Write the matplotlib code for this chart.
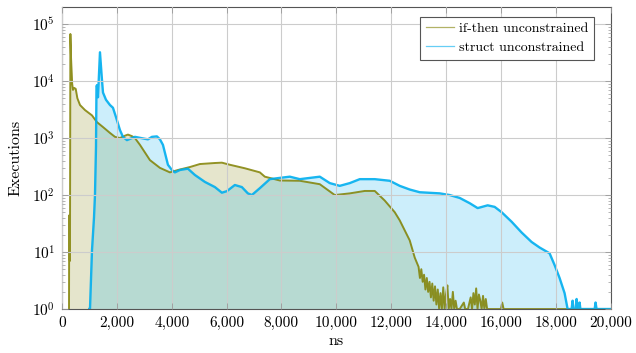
import numpy as np
import matplotlib
matplotlib.use("Agg")
import matplotlib.pyplot as plt
from matplotlib.ticker import FixedLocator, FuncFormatter, LogLocator, NullFormatter
from matplotlib.lines import Line2D

plt.rcParams["font.family"] = ["cmr10"]
plt.rcParams["mathtext.fontset"] = "cm"
plt.rcParams["axes.formatter.use_mathtext"] = True

# Execution-time histograms (ns -> number of executions)
ifthen_ns = [255, 262, 275, 290, 305, 330, 370, 400, 440, 500, 560, 656, 838, 1093,
             1275, 1494, 1749, 1931, 2113, 2295, 2404, 2550, 2659, 2842, 3206, 3570,
             3934, 4226, 4663, 5027, 5574, 5829, 6120, 6667, 7213, 7395, 7942, 8670,
             9399, 9945, 10492, 11038, 11403, 11767, 12131, 12313, 12678, 12860,
             13000, 13050, 13100, 13150, 13200, 13250, 13300, 13350, 13400, 13450,
             13500, 13550, 13600, 13650, 13700, 13750, 13800, 13850, 13900, 13950,
             14000, 14050, 14100, 14150, 14200, 14250, 14300, 14350, 14400, 14500,
             14650, 14700, 14800, 14900, 14950, 15000, 15050, 15100, 15150, 15200,
             15250, 15300, 15350, 15400, 15450, 15500, 15600, 16000, 16050, 16100,
             17000, 20000]
ifthen_exec = [1, 44, 8, 7, 67000, 25000, 9000, 7000, 7600, 7300, 5000, 3800, 3100, 2500,
               1900, 1560, 1230, 1050, 1000, 1100, 1150, 1080, 1000, 760, 410, 300,
               250, 275, 310, 350, 365, 370, 340, 295, 250, 210, 180, 178,
               155, 100, 107, 118, 118, 80, 50, 36, 16, 8,
               5.5, 3.5, 5, 3, 4, 2.2, 3.5, 2, 3, 1.6,
               2.8, 1.4, 2.5, 1.2, 2.2, 1, 1.9, 1, 2.4, 1,
               1.8, 2.6, 1, 1.5, 1, 2.0, 1, 1.4, 1, 1,
               1.3, 1, 1, 1.6, 1, 1.9, 1.2, 2.3, 1, 1.8,
               1.4, 1, 1.7, 1, 1.5, 1, 1, 1, 1.3, 1,
               1, 1]

struct_ns = [995, 1020, 1093, 1166, 1202, 1239, 1257, 1275, 1311, 1384, 1457, 1494,
             1603, 1749, 1858, 1967, 2113, 2222, 2368, 2659, 3024, 3133, 3279, 3461,
             3570, 3680, 3862, 4007, 4117, 4299, 4590, 4845, 5209, 5574, 5829, 6011,
             6302, 6557, 6776, 6922, 7213, 7577, 7942, 8306, 8670, 9399, 9763, 10127,
             10492, 10856, 11403, 11949, 12313, 12678, 13042, 13771, 14135, 14499,
             14863, 15154, 15519, 15774, 16029, 16393, 16758, 17122, 17413, 17777,
             17960, 18142, 18324, 18434, 18580, 18616, 18650, 18730, 18762, 18800,
             18850, 18871, 18900, 19420, 19453, 19490, 20000]
struct_exec = [1, 1, 10.7, 40, 100, 700, 8000, 8500, 5200, 32000, 10500, 6300,
               4700, 3800, 3400, 2340, 1380, 1050, 920, 1050, 970, 950, 1050, 1070,
               950, 760, 340, 275, 250, 275, 290, 225, 170, 138, 110, 117,
               150, 138, 107, 100, 132, 190, 200, 210, 190, 210, 162, 145,
               162, 190, 190, 178, 145, 125, 112, 107, 100, 89,
               72, 59, 66, 62, 50, 34, 22, 15, 12, 9.5,
               5.9, 3.5, 1.9, 1, 1, 1.4, 1, 1, 1.5, 1,
               1, 1.3, 1, 1, 1.3, 1, 1]

OLIVE = "#808000"
CYAN = "#00AEEF"

fig = plt.figure(figsize=(6.36, 3.53), dpi=100)
ax = fig.add_axes([0.0975, 0.1246, 0.8625, 0.8556])

ax.fill_between(ifthen_ns, 0.5, ifthen_exec, color=OLIVE, alpha=0.2, lw=0)
ax.plot(ifthen_ns, ifthen_exec, color=OLIVE, lw=1.4, alpha=0.85)
ax.fill_between(struct_ns, 0.5, struct_exec, color=CYAN, alpha=0.2, lw=0)
ax.plot(struct_ns, struct_exec, color=CYAN, lw=1.7, alpha=0.9)

ax.set_yscale("log")
ax.set_xlim(0, 20000)
ax.set_ylim(1, 10 ** 5.3)

ax.xaxis.set_major_locator(FixedLocator(np.arange(0, 20001, 2000)))
ax.xaxis.set_major_formatter(FuncFormatter(lambda v, p: f"{v:,.0f}"))
ax.yaxis.set_major_locator(LogLocator(base=10, numticks=10))
ax.yaxis.set_minor_locator(LogLocator(base=10, subs=np.arange(2, 10), numticks=20))
ax.yaxis.set_minor_formatter(NullFormatter())

ax.grid(True, which="major", color="#cccccc", lw=0.8)
ax.set_axisbelow(False)
for sp in ax.spines.values():
    sp.set_color("#555555")
    sp.set_linewidth(0.8)
ax.tick_params(which="both", direction="in", top=True, right=True,
               color="#999999", labelsize=11, pad=5)
ax.tick_params(which="major", length=4, width=0.6)
ax.tick_params(which="minor", length=2.5, width=0.5)

ax.set_xlabel("ns", fontsize=11.5, labelpad=3)
ax.set_ylabel("Executions", fontsize=11.5, labelpad=7)

handles = [Line2D([], [], color=OLIVE, lw=0.9, alpha=0.6),
           Line2D([], [], color=CYAN, lw=0.9, alpha=0.6)]
leg = ax.legend(handles, ["if-then unconstrained", "struct unconstrained"],
                loc="upper right", bbox_to_anchor=(0.970, 0.967), borderaxespad=0,
                fontsize=10, frameon=True, fancybox=False, handlelength=2.0,
                handletextpad=0.4, labelspacing=0.45, borderpad=0.4)
leg.get_frame().set_edgecolor("#555555")
leg.get_frame().set_linewidth(0.8)
leg.get_frame().set_alpha(1)

fig.savefig("out.png", dpi=100)
